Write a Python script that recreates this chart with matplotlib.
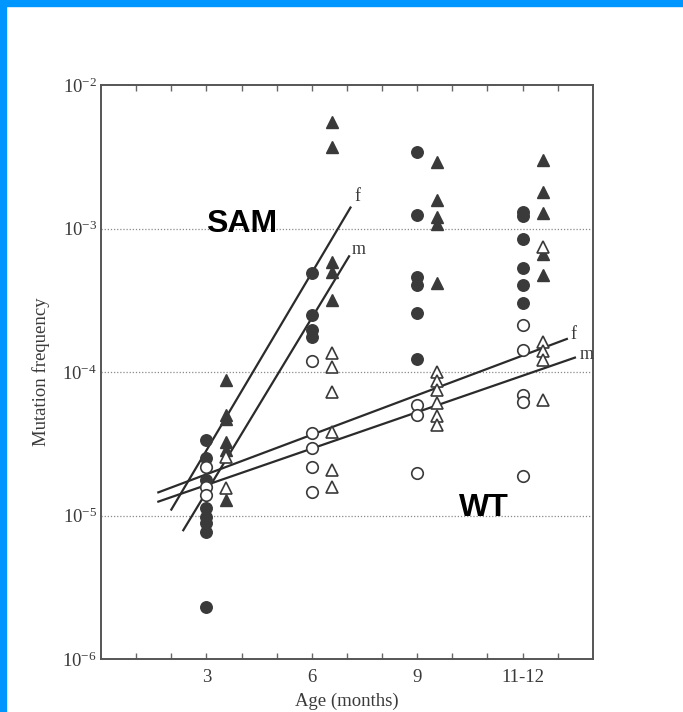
import numpy as np
import matplotlib
matplotlib.use('Agg')
from matplotlib import pyplot as plt
from matplotlib.patches import Rectangle

# ages (months); last group is labelled "11-12"
ages = [3, 6, 9, 12]
age_labels = ['3', '6', '9', '11-12']

# SAM = filled markers, WT = open markers; circles and triangles per age group
sam_circles = [
    [3.37e-5, 2.52e-5, 1.77e-5, 1.13e-5, 9.8e-6, 8.9e-6, 7.7e-6, 2.3e-6],
    [4.93e-4, 2.5e-4, 1.97e-4, 1.76e-4],
    [3.44e-3, 1.25e-3, 4.63e-4, 4.07e-4, 2.59e-4, 1.24e-4],
    [1.31e-3, 1.22e-3, 8.5e-4, 5.3e-4, 4.07e-4, 3.05e-4],
]
sam_triangles = [
    [8.8e-5, 5.0e-5, 4.7e-5, 3.27e-5, 2.87e-5, 1.29e-5],
    [5.5e-3, 3.7e-3, 5.8e-4, 5.0e-4, 3.2e-4],
    [2.89e-3, 1.59e-3, 1.21e-3, 1.07e-3, 4.2e-4],
    [2.99e-3, 1.81e-3, 1.29e-3, 6.6e-4, 4.77e-4],
]
wt_circles = [
    [2.18e-5, 1.58e-5, 1.39e-5],
    [1.2e-4, 3.77e-5, 2.96e-5, 2.18e-5, 1.46e-5],
    [5.9e-5, 5.0e-5, 1.98e-5],
    [2.14e-4, 1.43e-4, 6.95e-5, 6.2e-5, 1.9e-5],
]
wt_triangles = [
    [2.55e-5, 1.56e-5],
    [1.36e-4, 1.09e-4, 7.2e-5, 3.83e-5, 2.09e-5, 1.59e-5],
    [1.0e-4, 8.6e-5, 7.5e-5, 6.1e-5, 4.9e-5, 4.3e-5],
    [7.4e-4, 1.63e-4, 1.39e-4, 1.22e-4, 6.4e-5],
]

# regression lines (end points)
sam_f_x, sam_f_y = [2.0, 7.1], [1.1e-5, 1.4e-3]
sam_m_x, sam_m_y = [2.34, 7.06], [7.9e-6, 6.4e-4]
wt_f_x, wt_f_y = [1.63, 13.26], [1.45e-5, 1.7e-4]
wt_m_x, wt_m_y = [1.63, 13.49], [1.25e-5, 1.26e-4]

tri_offset = 0.57
ink = '#3a3a3a'
serif = ['Liberation Serif', 'DejaVu Serif']

plt.rcParams['font.family'] = serif
plt.rcParams['mathtext.fontset'] = 'stix'

fig = plt.figure(figsize=(6.83, 7.12), dpi=100)
ax = fig.add_axes([0.148, 0.0744, 0.72, 0.8062])

for i, age in enumerate(ages):
    ax.plot([age] * len(sam_circles[i]), sam_circles[i], 'o', ms=8.3,
            color=ink, mec=ink, ls='none', zorder=3)
    ax.plot([age] * len(wt_circles[i]), wt_circles[i], 'o', ms=8.3,
            mfc='white', mec=ink, mew=1.2, ls='none', zorder=3)
    ax.plot([age + tri_offset] * len(sam_triangles[i]), sam_triangles[i], '^',
            ms=9, color=ink, mec=ink, ls='none', zorder=3)
    ax.plot([age + tri_offset] * len(wt_triangles[i]), wt_triangles[i], '^',
            ms=9, mfc='white', mec=ink, mew=1.2, ls='none', zorder=3)

for lx, ly in [(sam_f_x, sam_f_y), (sam_m_x, sam_m_y), (wt_f_x, wt_f_y), (wt_m_x, wt_m_y)]:
    ax.plot(lx, ly, color='#2b2b2b', lw=1.6, zorder=2)

ax.text(7.29, 1.67e-3, 'f', fontsize=13, color=ink, ha='center', va='center')
ax.text(7.34, 7.1e-4, 'm', fontsize=13, color=ink, ha='center', va='center')
ax.text(13.46, 1.82e-4, 'f', fontsize=13, color=ink, ha='center', va='center')
ax.text(13.83, 1.32e-4, 'm', fontsize=13, color=ink, ha='center', va='center')

ax.text(0.285, 0.758, 'SAM', transform=ax.transAxes, fontsize=23, fontweight='bold',
        family=['Liberation Sans', 'DejaVu Sans'], ha='center', va='center', color='black')
ax.text(0.778, 0.263, 'WT', transform=ax.transAxes, fontsize=23, fontweight='bold',
        family=['Liberation Sans', 'DejaVu Sans'], ha='center', va='center', color='black')

ax.set_yscale('log')
ax.set_ylim(1e-6, 1e-2)
ax.set_xlim(0, 14)
ax.set_yticks([1e-6, 1e-5, 1e-4, 1e-3, 1e-2])
ax.yaxis.set_minor_locator(matplotlib.ticker.NullLocator())
ax.set_xticks(ages)
ax.set_xticklabels(age_labels)
ax.set_xticks(np.arange(1, 14), minor=True)
ax.tick_params(axis='x', which='both', direction='in', top=True, length=4, width=1,
               color='#666666', labelsize=13.5, labelcolor=ink, pad=7)
ax.tick_params(axis='y', which='both', length=0, labelsize=13.5, labelcolor=ink, pad=3)

for y in [1e-5, 1e-4, 1e-3]:
    ax.axhline(y, color='#8a8a8a', ls=(0, (1, 1.5)), lw=0.9, zorder=1)

for s in ax.spines.values():
    s.set_color('#555555')
    s.set_linewidth(1.4)

ax.set_xlabel('Age (months)', fontsize=13.5, color=ink, labelpad=5)
ax.set_ylabel('Mutation frequency', fontsize=13.5, color=ink, labelpad=9)

# blue frame at top and left edge
fig.patches.append(Rectangle((0, 1 - 6 / 712), 1, 6 / 712, transform=fig.transFigure,
                             color='#0096ff', zorder=10))
fig.patches.append(Rectangle((0, 0), 6 / 683, 1, transform=fig.transFigure,
                             color='#0096ff', zorder=10))

fig.savefig('out.png', dpi=100)
